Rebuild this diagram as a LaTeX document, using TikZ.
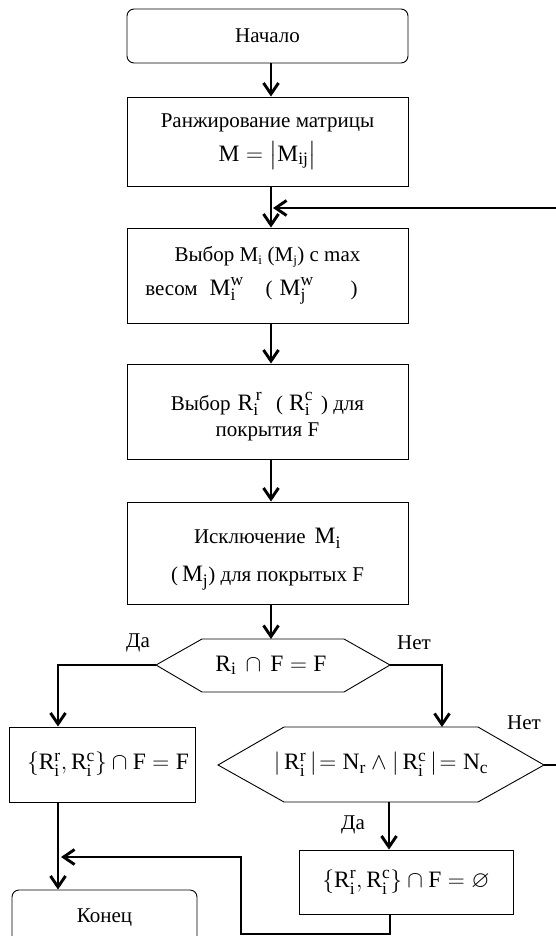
\documentclass[tikz,border=0pt]{standalone}
\usepackage{fix-cm}
\usepackage{amssymb}
\usepackage{fontspec}
\setmainfont{Liberation Serif}
\usetikzlibrary{arrows.meta}
\newcommand\rmm[1]{\mathrm{#1}}
\newcommand\mm[1]{\hbox{\fontsize{23.5}{23.5}\selectfont #1}}
\newcommand\sx[1]{\hbox{\fontsize{17.5}{17.5}\selectfont #1}}
\newcommand\sy[1]{\hbox{\fontsize{13}{13}\selectfont #1}}
\newcommand\lowr[2]{\raisebox{-#1}[\height][\depth]{#2}}
\newcommand\bigmath{\fontsize{23.5}{34}\selectfont}
\begin{document}
\begin{tikzpicture}[x=1pt,y=-1pt,
  txt/.style={font=\fontsize{21}{34}\selectfont},
  mtxt/.style={font=\bigmath},
  box/.style={draw,line width=0.9pt,minimum width=281pt,inner sep=0pt,align=center,txt},
  rbox/.style={box,rounded corners=7pt},
  hexline/.style={line width=0.9pt,line join=miter},
  conn/.style={line width=2.9pt,-{Straight Barb[length=11pt,width=15pt,line width=2.9pt]}},
  lbl/.style={txt,inner sep=0pt}
]
\useasboundingbox (0,0) rectangle (556,936);
\clip (0,0) rectangle (556,936);

\coordinate (ax) at (271,0);

\node[rbox,minimum height=54pt] (b1) at (267.5,36) {Начало};
\node[box,minimum height=89pt] (b2) at (267.5,141.5) {Ранжирование матрицы\\ {\bigmath$\rmm{M}=\left|\rmm{M}_{\sx{ij}}\vrule height 16pt depth 6pt width 0pt\right|$}};
\node[box,minimum height=95pt] (b3) at (267.5,275.5) {Выбор $\rmm{M}_{\sy{i}}$ ($\rmm{M}_{\sy{j}}$) с max\\ весом\hspace{12pt}$\mm{M}_{\sx i}^{\sx w}$\hspace{22pt}(\hspace{7pt}$\mm{M}_{\sx j}^{\sx w}$\hspace{37pt})\hspace*{32pt}};
\node[box,minimum height=95pt] (b4) at (267.5,411.5) {\lowr{5pt}{Выбор\hspace{7pt}$\mm{R}_{\sx i}^{\,\sx r}$\hspace{14pt}(\hspace{6pt}$\mm{R}_{\sx i}^{\sx c}$\hspace{8pt}) для}\\[-8pt] \lowr{5pt}{покрытия F}};
\node[box,minimum height=102pt] (b5) at (267.5,553) {\lowr{6pt}{Исключение\hspace{9pt}$\mm{M}_{\sx i}$}\\[4pt] \lowr{6pt}{(\hspace{4pt}$\mm{M}_{\sx j}$) для покрытых F}};

% decision 1
\node[mtxt,inner sep=0pt] (d1) at (271,665.5) {$\rmm{R}_{\sx i}\,\cap\,\rmm{F}=\rmm{F}$};
\coordinate (d1w) at (156,665);
\coordinate (d1e) at (390,665);
\coordinate (d1n) at (271,639);
\draw[hexline] (d1w) -- (202,639) -- (344,639) -- (d1e) -- (344,692) -- (202,692) -- cycle;

% left box
\node[box,mtxt,minimum width=186pt,minimum height=75pt] (lb) at (102,764.5) {\hspace*{12pt}$\{\rmm{R}_{\sx i}^{\sx r},\rmm{R}_{\sx i}^{\sx c}\}\cap\rmm{F}=\rmm{F}$};

% decision 2
\node[mtxt,inner sep=0pt] (d2) at (381,764.5) {$|\,\rmm{R}_{\sx i}^{\sx r}\,|\!=\rmm{N}_{\sx r}\wedge|\,\rmm{R}_{\sx i}^{\sx c}\,|\!=\rmm{N}_{\sx c}$};
\coordinate (d2w) at (218,765);
\coordinate (d2e) at (544,765);
\coordinate (d2n) at (442,727);
\coordinate (d2s) at (389,802);
\draw[hexline] (d2w) -- (284,727) -- (478,727) -- (d2e) -- (478,802) -- (284,802) -- cycle;

% box 6
\node[box,mtxt,minimum width=214pt,minimum height=64pt] (b6) at (406,882) {$\{\rmm{R}_{\sx i}^{\sx r},\rmm{R}_{\sx i}^{\sx c}\}\cap\rmm{F}=\varnothing$};

% end
\node[rbox,minimum width=185pt,minimum height=56pt] (e) at (104.5,918) {Конец};

% connectors
\draw[conn] (b1.south -| ax) -- (b2.north -| ax);
\draw[conn] (b2.south -| ax) -- (b3.north -| ax);
\draw[conn] (b3.south -| ax) -- (b4.north -| ax);
\draw[conn] (b4.south -| ax) -- (b5.north -| ax);
\draw[conn] (b5.south -| ax) -- (d1n);
\draw[conn] (d1w) -| (lb.north -| 58,0);
\draw[conn] (d1e) -| (d2n);
\draw[conn] (d2s) -- (b6.north -| d2s);
\draw[conn] (lb.south -| 58,0) -- (e.north -| 58,0);
\draw[conn] (d2e) -- (580,765) |- (273,208);
\draw[conn] (b6.south -| 390,0) -- (390,934) -| (241,857) -- (61,857);

% labels
\node[lbl] (l1) at (138,643) {Да};
\node[lbl] (l2) at (414,643) {Нет};
\node[lbl] (l3) at (524,723) {Нет};
\node[lbl] (l4) at (353,825) {Да};
\end{tikzpicture}
\end{document}
